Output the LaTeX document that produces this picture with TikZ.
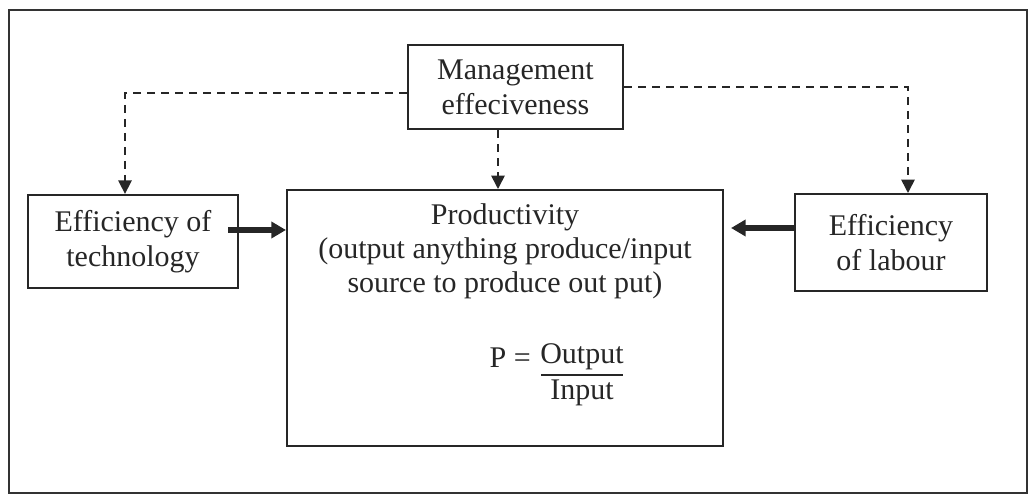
\documentclass[tikz,border=0pt]{standalone}
\usepackage{fontspec}
\setmainfont{Liberation Serif}
\usetikzlibrary{arrows.meta,calc}
\begin{document}
\begin{tikzpicture}[x=0.75pt,y=-0.75pt,
  box/.style={draw=black!85,line width=1.5pt,inner sep=0pt,align=center,
    font=\fontsize{22.5}{26.5}\selectfont,text=black!85},
  dashlink/.style={draw=black!85,line width=1.2pt,dash pattern=on 6pt off 4.5pt,
    -{Triangle[width=10pt,length=10pt]}},
  thicklink/.style={draw=black!85,line width=4pt,
    -{Triangle[width=12pt,length=11pt]}},
  txt/.style={inner sep=0pt,align=center,font=\fontsize{22.5}{26}\selectfont,text=black!85}]
  \useasboundingbox (0,0) rectangle (1029,495);
  % outer frame
  \draw[black!80,line width=2pt] (9,10) rectangle (1027,493);

  % boxes
  \node[box,minimum width=161.25pt,minimum height=63pt] (mgmt) at (515.5,87.5)
    {Management\\effeciveness};
  \node[box,minimum width=157.5pt,minimum height=70pt] (tech) at (133,241.5)
    {Efficiency of\\technology};
  \node[box,minimum width=327pt,minimum height=192pt] (prod) at (505,318) {};
  \node[box,minimum width=144pt,minimum height=72.75pt] (lab) at (891,242.5)
    {Efficiency\\of labour};

  % text inside the productivity box
  \node[txt,anchor=north,font=\fontsize{22.5}{25.5}\selectfont] (ptext) at (505,203)
    {Productivity\\(output anything produce/input\\source to produce out put)};
  \node[txt,anchor=east] (peq) at (531,358) {P =};
  \node[txt] (pout) at (582,357) {Output};
  \node[txt] (pin) at (582,393) {Input};
  \draw[black!85,line width=1.2pt] (541,375) -- (623,375);

  % dashed influence links
  \coordinate (tl) at (125,93);
  \coordinate (tr) at (908,87);
  \draw[dashlink] (mgmt.west|-tl) -- (tl) -- (tl|-tech.north);
  \draw[dashlink] (mgmt.east|-tr) -- (tr) -- (tr|-lab.north);
  \draw[dashlink] (mgmt.south-|498,0) -- (prod.north-|498,0);

  % thick links into productivity
  \coordinate (ta) at (228,230);
  \coordinate (la) at (794,228);
  \draw[thicklink] (ta) -- (ta-|prod.west);
  \draw[thicklink] (la) -- ([xshift=5.25pt]la-|prod.east);
\end{tikzpicture}
\end{document}
